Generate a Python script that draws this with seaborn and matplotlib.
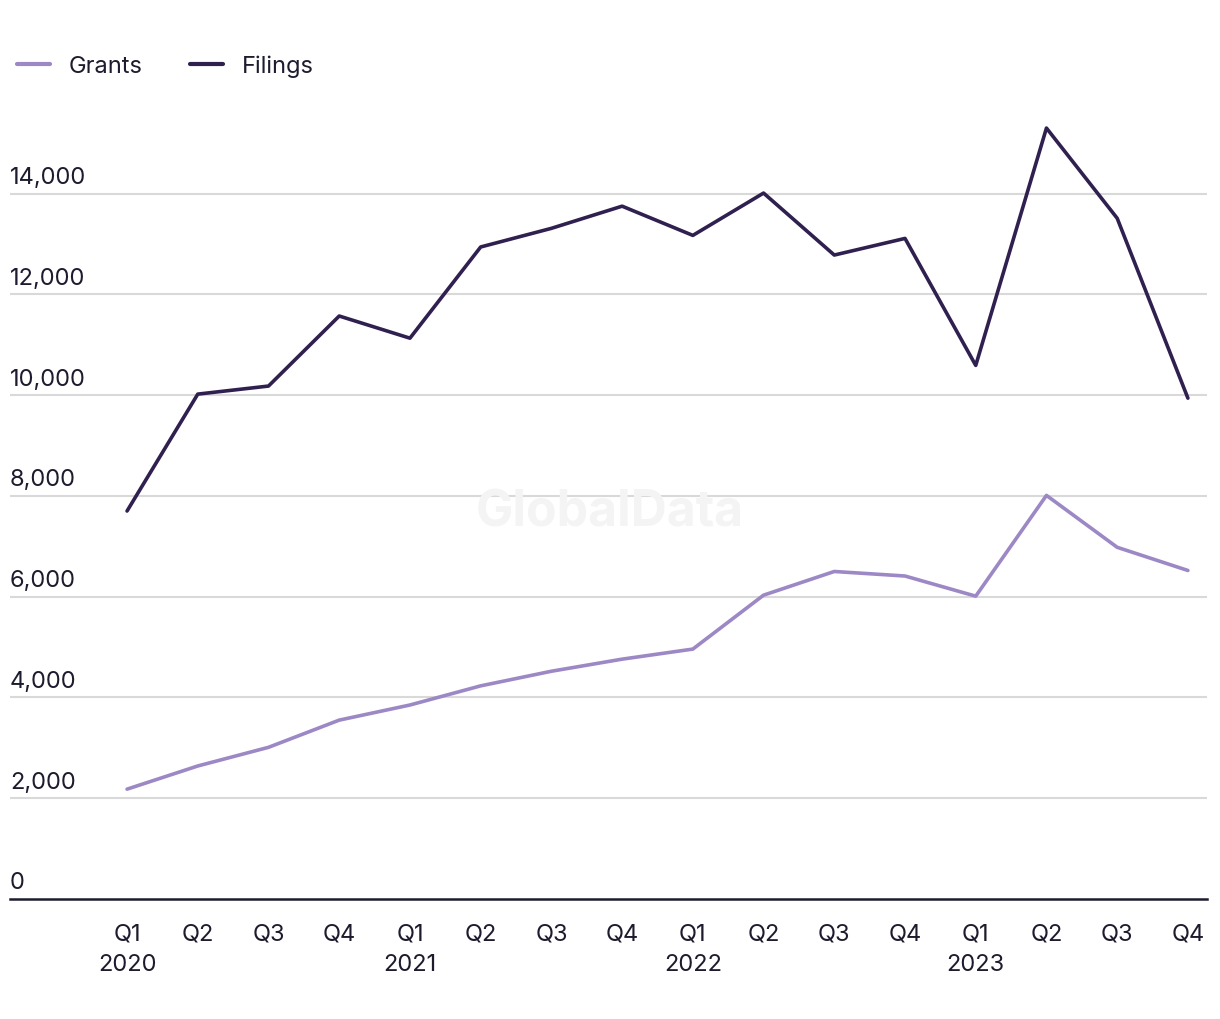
import matplotlib.pyplot as plt
import seaborn as sns
import pandas as pd

# Dados
quarters = ['Q1', 'Q2', 'Q3', 'Q4'] * 4
years = ['2020', '', '', '', '2021', '', '', '', '2022', '', '', '', '2023', '', '', '']
grants = [2180, 2640, 3010, 3550, 3850, 4230, 4520, 4760,
          4960, 6030, 6500, 6410, 6010, 8010, 6980, 6520]
filings = [7700, 10020, 10180, 11570, 11130, 12940, 13310, 13750,
           13170, 14010, 12780, 13110, 10590, 15300, 13510, 9940]
yticks = [0, 2000, 4000, 6000, 8000, 10000, 12000, 14000]

idx = list(range(len(quarters)))
data = pd.DataFrame({
    'idx': idx * 2,
    'value': grants + filings,
    'series': ['Grants'] * len(idx) + ['Filings'] * len(idx),
})

sns.set_style("white")
plt.rcParams['font.family'] = ['Inter', 'DejaVu Sans']
plt.rcParams['font.size'] = 17

fig = plt.figure(figsize=(12.2, 10.2), dpi=100)
ax = fig.add_axes([10 / 1220, 120 / 1020, 1197 / 1220, 780 / 1020])

palette = {'Grants': '#9d88c6', 'Filings': '#30204f'}
sns.lineplot(data=data, x='idx', y='value', hue='series', palette=palette,
             linewidth=2.6, ax=ax, legend=False)

ax.set_xlim(-1.655, 15.27)
ax.set_ylim(0, 15480)

# grid
for v in yticks[1:]:
    ax.axhline(v, color='#d9d9d9', linewidth=1.5, zorder=0)
    ax.text(0, v + 110, f'{v:,}', transform=ax.get_yaxis_transform(),
            ha='left', va='bottom', fontsize=17, color='#1c1c2e')
ax.text(0, 110, '0', transform=ax.get_yaxis_transform(),
        ha='left', va='bottom', fontsize=17, color='#1c1c2e')

ax.set_yticks([])
ax.set_xticks(idx)
ax.set_xticklabels([f'{q}\n{y}' for q, y in zip(quarters, years)],
                   fontsize=17, color='#1c1c2e', linespacing=1.5)
ax.tick_params(axis='x', length=0, pad=17)
ax.set_xlabel('')
ax.set_ylabel('')

for s in ['top', 'right', 'left']:
    ax.spines[s].set_visible(False)
ax.spines['bottom'].set_color('#1c1c2e')
ax.spines['bottom'].set_linewidth(1.8)

# watermark
ax.text(0.5, 0.497, 'GlobalData', transform=fig.transFigure, ha='center',
        va='center', fontsize=36, fontweight='bold', color='#f4f4f4', zorder=0)

# legend
handles = [plt.Line2D([], [], color=palette['Grants'], linewidth=3.0),
           plt.Line2D([], [], color=palette['Filings'], linewidth=3.0)]
fig.legend(handles, ['Grants', 'Filings'], loc='upper left',
           bbox_to_anchor=(0.0, 0.962), ncol=2, frameon=False, fontsize=17,
           handlelength=1.4, handletextpad=0.8, columnspacing=2.0,
           labelcolor='#1c1c2e', borderaxespad=0.3)

plt.savefig('out.png', dpi=100)
plt.close()
